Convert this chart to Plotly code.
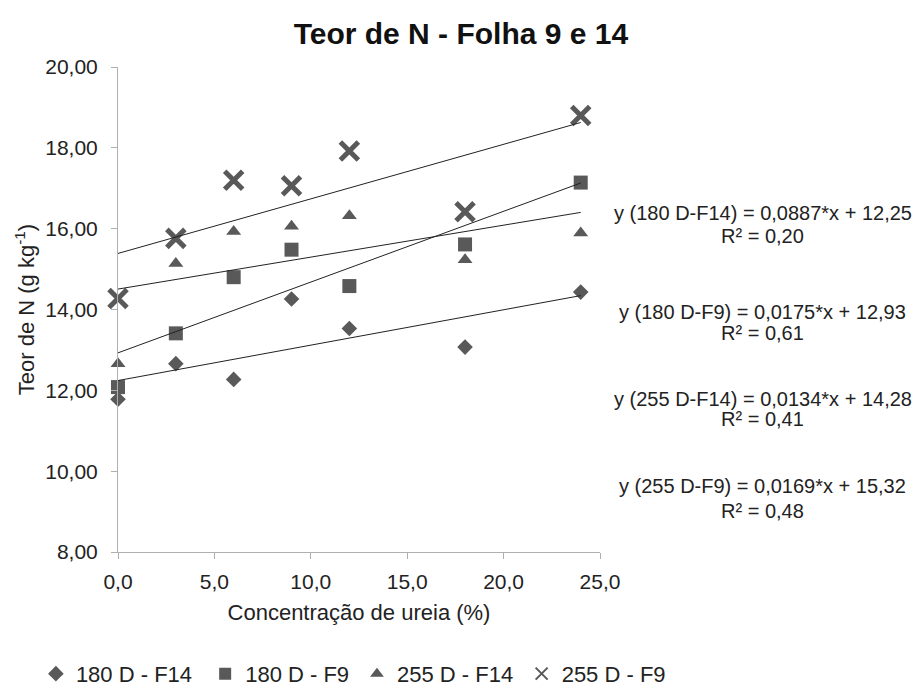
import numpy as np
import plotly.graph_objects as go

x = [0, 3, 6, 9, 12, 18, 24]
s180_f14 = [11.78, 12.66, 12.27, 14.26, 13.53, 13.07, 14.43]
s180_f9 = [12.08, 13.41, 14.80, 15.48, 14.58, 15.61, 17.14]
s255_f14 = [12.66, 15.14, 15.93, 16.06, 16.32, 15.23, 15.89]
s255_f9 = [14.27, 15.76, 17.20, 17.06, 17.92, 16.42, 18.80]

names = ["180 D - F14", "180 D - F9", "255 D - F14", "255 D - F9"]
symbols = ["diamond", "square", "triangle-up", "x-thin-open"]
sizes = [12, 14, 13, 18]
series = [s180_f14, s180_f9, s255_f14, s255_f9]

eq_lines = [
    "y (180 D-F14) = 0,0887*x + 12,25",
    "y (180 D-F9) = 0,0175*x + 12,93",
    "y (255 D-F14) = 0,0134*x + 14,28",
    "y (255 D-F9) = 0,0169*x + 15,32",
]
r2_lines = ["R² = 0,20", "R² = 0,61", "R² = 0,41", "R² = 0,48"]
eq_y = [0.699, 0.495, 0.315, 0.136]
r2_y = [0.652, 0.452, 0.274, 0.085]
legend_x = [0.039, 0.223, 0.388, 0.567]

MC = "#595959"
fig = go.Figure()
for i, (name, sym, sz, ys) in enumerate(zip(names, symbols, sizes, series)):
    m = dict(symbol=sym, size=sz, color=MC)
    if sym == "x-thin-open":
        m = dict(symbol="x-thin-open", size=sz, color=MC, line=dict(width=5, color=MC))
    lg = "legend" if i == 0 else f"legend{i+1}"
    fig.add_trace(go.Scatter(x=x, y=ys, mode="markers", name=name, marker=m,
                             cliponaxis=False, legend=lg))
for ys in series:
    a, b = np.polyfit(x, ys, 1)
    xs = [0, 24]
    fig.add_trace(go.Scatter(x=xs, y=[a * v + b for v in xs], mode="lines",
                             line=dict(color="#222222", width=1), showlegend=False,
                             hoverinfo="skip"))

for t, r, ye, yr in zip(eq_lines, r2_lines, eq_y, r2_y):
    fig.add_annotation(text=t, x=1.338, y=ye, xref="paper", yref="paper", showarrow=False,
                       xanchor="center", yanchor="middle",
                       font=dict(size=20, color="#222222"))
    fig.add_annotation(text=r, x=1.338, y=yr, xref="paper", yref="paper", showarrow=False,
                       xanchor="center", yanchor="middle",
                       font=dict(size=20, color="#222222"))

leg_common = dict(orientation="h", xref="container", yref="container", y=0.022,
                  xanchor="left", yanchor="middle", font=dict(size=22, color="#222222"),
                  itemwidth=30, itemsizing="constant", bgcolor="rgba(0,0,0,0)")
layout_legends = {}
for i, lx in enumerate(legend_x):
    key = "legend" if i == 0 else f"legend{i+1}"
    layout_legends[key] = dict(leg_common, x=lx)

fig.update_layout(
    width=920, height=689,
    margin=dict(l=118, r=320, t=67, b=137),
    paper_bgcolor="white", plot_bgcolor="white",
    separators=",.",
    font=dict(family="Liberation Sans, Arial, sans-serif", color="#222222", size=21),
    title=dict(text="<b>Teor de N - Folha 9 e 14</b>", x=0.501, xref="container", y=0.951,
               xanchor="center", yanchor="middle", font=dict(size=30, color="#111111")),
    showlegend=True,
    **layout_legends,
)
fig.update_xaxes(range=[0, 25], dtick=5, tickformat=".1f", showgrid=False, zeroline=False,
                 showline=True, linecolor="#b0b0b0", linewidth=1, ticks="outside",
                 tickcolor="#b0b0b0", ticklen=6, tickfont=dict(size=21),
                 ticklabelstandoff=5,
                 title=dict(text="Concentração de ureia (%)", font=dict(size=22), standoff=12))
fig.update_yaxes(range=[8, 20], dtick=2, tickformat=".2f", showgrid=False, zeroline=False,
                 showline=True, linecolor="#b0b0b0", linewidth=1, ticks="outside",
                 tickcolor="#b0b0b0", ticklen=6, tickfont=dict(size=21),
                 ticklabelstandoff=9,
                 title=dict(text="Teor de N (g kg<sup>-1</sup>)", font=dict(size=22), standoff=4))
fig.write_html("out.html")
